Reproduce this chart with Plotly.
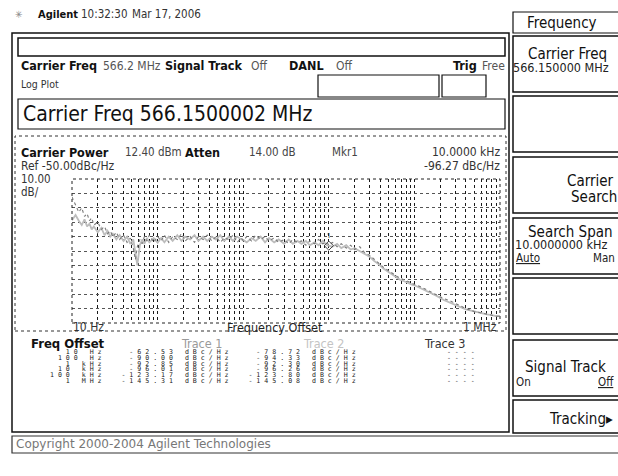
import plotly.graph_objects as go

W, H = 618, 476

# ---------------- data ----------------
freq_hz = [10, 11, 12, 13, 14, 15, 16, 17, 18, 20, 22, 24, 26, 28, 30, 33, 36, 40, 44, 48,
           52, 55, 58, 62, 66, 70, 75, 80, 90, 100, 110, 120, 135, 150, 170, 190, 210, 240,
           270, 300, 340, 380, 430, 480, 540, 600, 680, 760, 850, 950, 1000, 1100, 1250,
           1400, 1600, 1800, 2000, 2300, 2600, 3000, 3400, 3800, 4300, 4800, 5400, 6000,
           6800, 7600, 8500, 9500, 10000, 11000, 12500, 14000, 16000, 18000, 20000, 23000,
           26000, 30000, 34000, 38000, 43000, 48000, 54000, 60000, 68000, 76000, 85000,
           95000, 100000, 120000, 150000, 180000, 220000, 270000, 330000, 400000, 500000,
           600000, 700000, 800000, 900000, 1000000]

trace1_dbc = [-62.5, -68, -73, -70, -76, -74, -79, -77, -82, -80, -85, -83, -88, -86, -90, -87,
              -92, -89, -94, -91, -98, -106, -97, -92, -95, -90, -93, -89, -94, -90, -93, -89,
              -94, -90, -92, -88, -93, -90, -94, -90, -92, -89, -93, -90, -94, -91, -92, -89,
              -94, -91, -92.9, -90, -93, -89, -92, -90, -93, -91, -94, -92, -95, -92, -94, -93,
              -96, -93, -95, -92, -95, -94, -96.0, -94, -97, -95, -98, -96, -99, -97, -101,
              -103, -106, -108, -111, -113, -115, -117, -119, -120, -121.5, -122.5, -123.2,
              -125, -128, -130, -133, -135, -137.5, -140, -142, -143, -144, -144.8, -145.2,
              -145.3]

trace2_dbc = [-78.7, -75, -79, -82, -78, -83, -81, -85, -83, -87, -84, -89, -86, -90, -88, -92,
              -89, -93, -90, -95, -92, -100, -110, -96, -92, -95, -91, -94, -91, -94.3, -91,
              -94, -90, -93, -89, -93, -90, -92, -89, -93, -90, -93, -90, -92, -89, -93, -90,
              -93, -90, -92, -92.3, -94, -91, -93, -90, -94, -91, -94, -92, -95, -92, -95, -93,
              -95, -93, -96, -94, -96, -93, -96, -96.3, -97, -95, -98, -96, -99, -98, -100,
              -102, -104, -107, -109, -112, -114, -116, -118, -120, -121, -122.5, -123.5,
              -123.8, -126, -129, -131, -134, -136, -138.5, -140.5, -142, -143, -144, -144.5,
              -145.2, -145.1]

marker_freq = [10000]
marker_dbc = [-96.27]

table_offsets = ["10 Hz", "100 Hz", "1 kHz", "10 kHz", "100 kHz", "1 MHz"]
table_trace1 = [-62.53, -90.00, -92.85, -96.01, -123.17, -145.31]
table_trace2 = [-78.72, -94.33, -92.30, -96.26, -123.80, -145.08]

ref_level = -50.0
db_per_div = 10.0
n_div = 10

# ---------------- helpers ----------------
SANS = "DejaVu Sans Condensed, Liberation Sans Narrow, DejaVu Sans, sans-serif"
WIDE = "DejaVu Sans, Verdana, sans-serif"
MONO = "DejaVu Sans Mono, Liberation Mono, monospace"
ann = []
shapes = []


def T(x, y, s, size=12, anchor="left", color="#111", bold=False, font=SANS):
    if bold:
        s = "<b>" + s + "</b>"
    ann.append(dict(x=x / W, y=1 - y / H, xref="paper", yref="paper", text=s,
                    showarrow=False, xanchor=anchor, yanchor="middle", borderpad=0,
                    font=dict(size=size, color=color, family=font)))


def R(x0, y0, x1, y1, width=1.2, dash="solid", color="#111"):
    shapes.append(dict(type="rect", xref="paper", yref="paper", x0=x0 / W, x1=x1 / W,
                       y0=1 - y1 / H, y1=1 - y0 / H, layer="above",
                       line=dict(width=width, dash=dash, color=color)))


def spread(s):
    return "\u00a0".join(s.replace(" ", "\u00a0"))


# plot area in pixels
PX0, PX1, PY0, PY1 = 72, 500, 179, 323

fig = go.Figure()
fig.add_trace(go.Scatter(x=freq_hz, y=trace2_dbc, mode="lines",
                         line=dict(color="#bdbdbd", width=1.8), hoverinfo="skip"))
fig.add_trace(go.Scatter(x=freq_hz, y=trace1_dbc, mode="lines",
                         line=dict(color="#7a7a7a", width=1.1, dash="dot"), hoverinfo="skip"))
fig.add_trace(go.Scatter(x=marker_freq, y=marker_dbc, mode="markers+text", text=["1"],
                         textposition="top center", textfont=dict(size=8, color="#333"),
                         marker=dict(symbol="diamond-open", size=7, color="#444",
                                     line=dict(width=1)), hoverinfo="skip"))

# ---------------- frames ----------------
R(12, 33, 509, 432, width=1.5)
R(18, 38, 505, 56, width=1.5)
R(318, 75, 439, 97, width=1.2)
R(442, 75, 486, 97, width=1.2)
R(18, 99, 505, 129, width=1.2)
R(15, 136, 506, 331, width=1, dash="dot", color="#333")
R(PX0, PY0, PX1, PY1, width=1, dash="dot", color="#222")
R(12, 436, 640, 453, width=1.2, color="#333")

# softkey panel
R(513, 12, 640, 33, width=1.2)
key_tops = [36, 96, 157, 218, 278, 340, 400]
for kt in key_tops:
    R(513, kt, 640, min(kt + 56, 433), width=1.5)

# ---------------- text ----------------
T(14, 14, "✳", 10, color="#888")
T(37, 14, "Agilent", 11, bold=True)
T(80, 14, "10:32:30", 11.5, color="#333")
T(131, 14, "Mar 17, 2006", 11.5, color="#333")

T(20, 66, "Carrier Freq", 12.5, bold=True)
T(102, 66, "566.2 MHz", 12, color="#555")
T(164, 66, "Signal Track", 12.5, bold=True)
T(250, 66, "Off", 12, color="#555")
T(288, 66, "DANL", 12.5, bold=True)
T(335, 66, "Off", 12, color="#555")
T(452, 66, "Trig", 12.5, bold=True)
T(481, 66, "Free", 12, color="#555")
T(20, 84, "Log Plot", 10.5, color="#333")
T(22, 114, "Carrier Freq 566.1500002 MHz", 21, color="#111")

T(20, 152, "Carrier Power", 12.5, bold=True)
T(124, 152, "12.40 dBm", 11.5, color="#444")
T(184, 152, "Atten", 12.5, bold=True)
T(248, 152, "14.00 dB", 11.5, color="#444")
T(331, 152, "Mkr1", 11.5, color="#444")
T(501, 152, "10.0000 kHz", 12, anchor="right", color="#333")
T(20, 166, "Ref %.2fdBc/Hz" % ref_level, 12, color="#333")
T(501, 166, "%.2f dBc/Hz" % marker_dbc[0], 12, anchor="right", color="#333")
T(20, 179, "%.2f" % db_per_div, 11.5, color="#333")
T(20, 192, "dB/", 11.5, color="#333")

T(72, 327, "10 Hz", 12, color="#333")
T(275, 327, "Frequency Offset", 12.5, anchor="center", color="#222")
T(498, 327, "1 MHz", 12, anchor="right", color="#333")

T(30, 343, "Freq Offset", 13, bold=True)
T(180, 343, "Trace 1", 12.5, color="#9a9a9a")
T(302, 343, "Trace 2", 12.5, color="#c4c4c4")
T(423, 343, "Trace 3", 12.5, color="#333")

for i, (lab, v1, v2) in enumerate(zip(table_offsets, table_trace1, table_trace2)):
    yy = 352 + 5.8 * i
    row = (lab.rjust(8) + ("%.2f dBc/Hz" % v1).rjust(16) +
           ("%.2f dBc/Hz" % v2).rjust(16) + "----".rjust(15))
    T(476, yy, spread(row), 6.6, anchor="right", color="#222", font=MONO)

T(15, 444, "Copyright 2000-2004 Agilent Technologies", 12, color="#777", font=WIDE)

# softkeys
T(526, 23, "Frequency", 15, color="#111")
T(527, 54, "Carrier Freq", 15, color="#111")
T(512, 68, "566.150000 MHz", 12.5, color="#222")
T(566, 181, "Carrier", 15, color="#111")
T(570, 197, "Search", 15, color="#111")
T(527, 232, "Search Span", 15, color="#111")
T(514, 245, "10.0000000 kHz", 12.5, color="#222")
T(515, 258, "<u>Auto</u>", 11.5, color="#222")
T(592, 258, "Man", 11.5, color="#222")
T(524, 367, "Signal Track", 15, color="#111")
T(515, 382, "On", 11.5, color="#222")
T(597, 382, "<u>Off</u>", 11.5, color="#222")
T(548, 419, "Tracking\u25b8", 15, color="#111")

fig.update_layout(
    width=W, height=H, margin=dict(l=0, r=0, t=0, b=0),
    paper_bgcolor="white", plot_bgcolor="white", showlegend=False,
    annotations=ann, shapes=shapes,
    xaxis=dict(type="log", range=[1, 6], dtick="D1", domain=[PX0 / W, PX1 / W],
               showticklabels=False, ticks="", showgrid=True, gridcolor="#1a1a1a",
               griddash="dot", gridwidth=1, zeroline=False, showline=False, fixedrange=True),
    yaxis=dict(range=[ref_level - n_div * db_per_div, ref_level], dtick=db_per_div,
               domain=[1 - PY1 / H, 1 - PY0 / H], showticklabels=False, ticks="",
               showgrid=True, gridcolor="#555", griddash="dot", gridwidth=1,
               zeroline=False, showline=False, fixedrange=True),
)

fig.write_html("out.html", config={"staticPlot": True},
               post_script="document.body.style.margin='0px';")
